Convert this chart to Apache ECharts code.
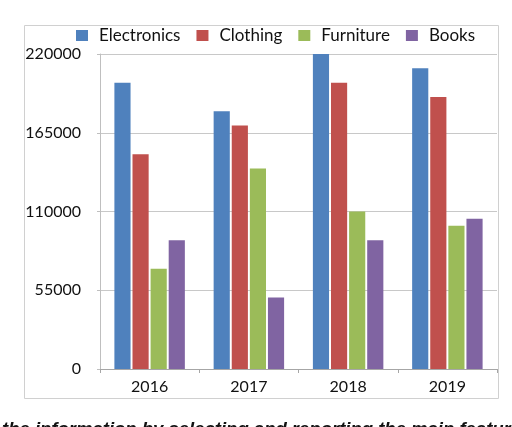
<!DOCTYPE html>
<html><head><meta charset="utf-8">
<script src="https://cdn.jsdelivr.net/npm/echarts@6/dist/echarts.min.js"></script>
<style>html,body{margin:0;padding:0;background:#fff;}#c{width:512px;height:427px;}</style>
</head><body><div id="c"></div>
<script>
const years = ['2016','2017','2018','2019'];
const electronics = [200000,180000,220000,210000];
const clothing = [150000,170000,200000,190000];
const furniture = [70000,140000,110000,100000];
const books = [90000,50000,90000,105000];
const yTicks = [0,55000,110000,165000,220000];
const seriesNames = ['Electronics','Clothing','Furniture','Books'];
const seriesData = [electronics, clothing, furniture, books];
const colors = ['#4F81BD','#C0504D','#9BBB59','#8064A2'];
const caption = 'the information by selecting and reporting the main features';

const FONT = 'Lato';
const chart = echarts.init(document.getElementById('c'));
chart.setOption({
  animation:false,
  backgroundColor:'#fff',
  color:colors,
  textStyle:{fontFamily:FONT},
  grid:{left:100,right:15,top:54,bottom:58},
  legend:{
    top:22,left:71,itemWidth:12,itemHeight:11,itemGap:16,
    icon:'rect',
    textStyle:{fontSize:17,color:'#111',fontFamily:FONT,padding:[0,0,0,6]},
    data:seriesNames
  },
  xAxis:{
    type:'category',data:years,
    axisLine:{lineStyle:{color:'#a6a6a6'}},
    axisTick:{show:true,length:4,lineStyle:{color:'#a6a6a6'}},
    axisLabel:{fontSize:16,color:'#111',margin:10,fontFamily:FONT}
  },
  yAxis:{
    type:'value',min:yTicks[0],max:yTicks[yTicks.length-1],interval:yTicks[1]-yTicks[0],
    axisLine:{show:true,lineStyle:{color:'#bfbfbf'}},
    axisTick:{show:true,length:3,lineStyle:{color:'#bfbfbf'}},
    splitLine:{lineStyle:{color:'#c8c8c8'}},
    axisLabel:{fontSize:16,color:'#111',margin:19,fontFamily:FONT,formatter:v=>String(v)}
  },
  series: seriesNames.map((n,i)=>({
    name:n,type:'bar',data:seriesData[i],
    barGap:'12%',barCategoryGap:'29%'
  })),
  graphic:[
    {type:'rect',shape:{x:24.5,y:25.5,width:474,height:373},style:{fill:'none',stroke:'#d0d0d0',lineWidth:1},z:-1},
    {type:'text',left:2,top:420,style:{text:caption,font:'italic bold 18.5px "Liberation Sans"',fill:'#111'}}
  ]
});
</script></body></html>
